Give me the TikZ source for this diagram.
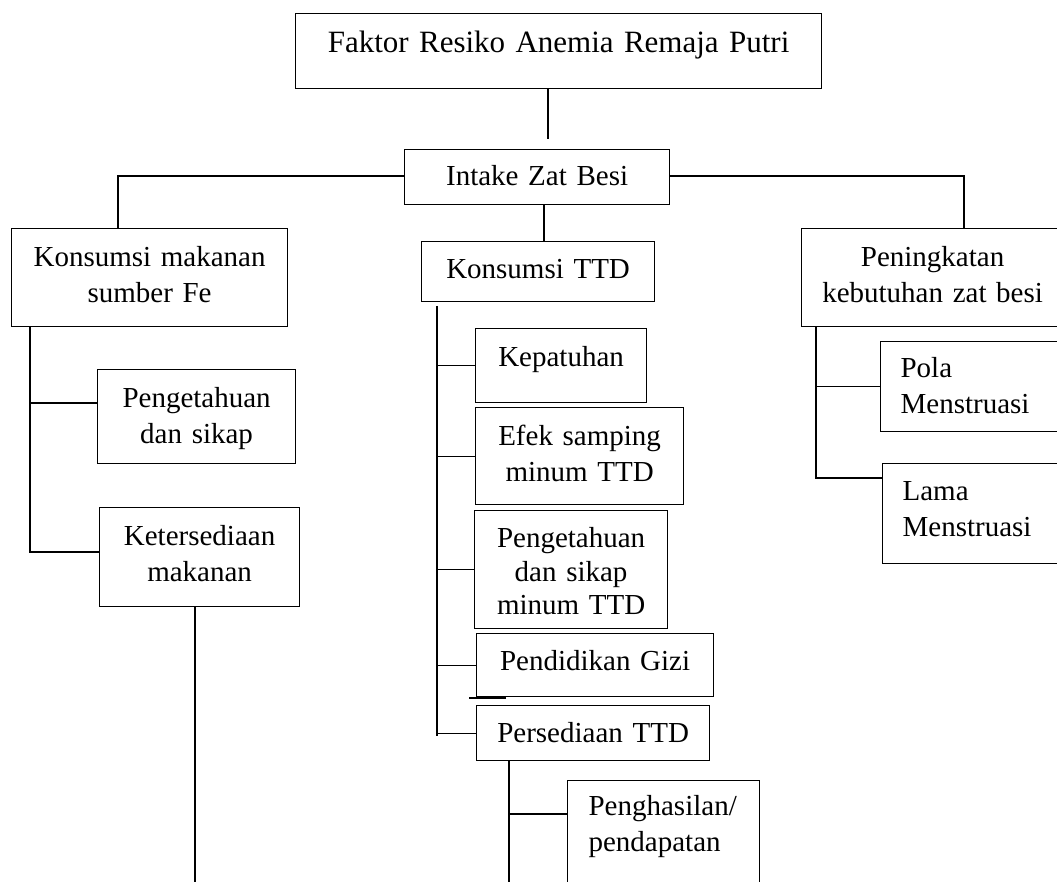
\documentclass[tikz,border=0pt]{standalone}
\usepackage{fontspec}
\setmainfont{Liberation Serif}
\tikzset{
  box/.style={draw, line width=1.2pt, inner ysep=0pt, inner xsep=0pt, anchor=north west,
    font=\fontsize{29}{36}\selectfont, align=center},
  lbox/.style={box, align=left},
  conn/.style={line width=1.2pt},
}
\begin{document}
\begin{tikzpicture}[x=1pt,y=-1pt]
\useasboundingbox (0,0) rectangle (1057,882);
\clip (0,0) rectangle (1057,882);

% boxes
\node[box, font=\fontsize{31}{37}\selectfont, text width=526pt, text height=39pt, text depth=36pt] (title) at (295,13) {Faktor Resiko Anemia Remaja Putri};
\node[box, text width=265pt, text height=36pt, text depth=19pt] (intake) at (404,149) {Intake Zat Besi};
\node[box, text width=276pt, text height=38pt, text depth=60pt] (konsMakan) at (11,228) {Konsumsi makanan\\sumber Fe};
\node[box, text width=233pt, text height=37pt, text depth=23pt] (konsTTD) at (421,241) {Konsumsi TTD};
\node[box, text width=262pt, text height=38pt, text depth=60pt] (peningkatan) at (801,228) {Peningkatan\\kebutuhan zat besi};
\node[box, text width=198pt, text height=38pt, text depth=56pt] (pengFe) at (97,369) {Pengetahuan\\dan sikap};
\node[box, text width=200pt, text height=38pt, text depth=61pt] (keters) at (99,507) {Ketersediaan\\makanan};
\node[box, text width=171pt, text height=38pt, text depth=36pt] (kepatuhan) at (475,328) {Kepatuhan};
\node[box, text width=208pt, text height=38pt, text depth=59pt] (efek) at (475,407) {Efek samping\\minum TTD};
\node[box, font=\fontsize{29}{33.5}\selectfont, text width=193pt, text height=37pt, text depth=81pt] (pengTTD) at (474,510) {Pengetahuan\\dan sikap\\minum TTD};
\node[box, text width=237pt, text height=37pt, text depth=26pt] (pendidikan) at (476,633) {Pendidikan Gizi};
\node[box, text width=233pt, text height=37pt, text depth=18pt] (persediaan) at (476,705) {Persediaan TTD};
\node[lbox, inner xsep=21pt, text width=150pt, text height=35pt, text depth=95pt] (penghasilan) at (567,780) {\mbox{Penghasilan/}\\\mbox{pendapatan}};
\node[lbox, inner xsep=20pt, text width=143pt, text height=36pt, text depth=54pt] (pola) at (880,341) {Pola\\Menstruasi};
\node[lbox, inner xsep=20pt, text width=141pt, text height=37pt, text depth=63pt] (lama) at (882,463) {Lama\\Menstruasi};

% connectors
\coordinate (t1) at (548,139);
\draw[conn] (title.south -| t1) -- (t1);
\coordinate (hl) at (118,176);
\coordinate (hr) at (964,176);
\draw[conn] (intake.west |- hl) -- (hl) -- (hl |- konsMakan.north);
\draw[conn] (intake.east |- hr) -- (hr) -- (hr |- peningkatan.north);
\coordinate (c1) at (544,204);
\draw[conn] (intake.south -| c1) -- (konsTTD.north -| c1);

\coordinate (lb1) at (30,403);
\coordinate (lb2) at (30,552);
\draw[conn] (konsMakan.south -| lb2) -- (lb2) -- (lb2 -| keters.west);
\draw[conn] (lb1) -- (lb1 -| pengFe.west);
\coordinate (kb) at (195,895);
\draw[conn] (keters.south -| kb) -- (kb);

\coordinate (tt) at (437,306);
\coordinate (tb) at (437,736);
\draw[conn] (tt) -- (tb);
\foreach \n in {kepatuhan,efek,pengTTD,pendidikan,persediaan}
  \draw[conn] (\n.west -| tt) -- (\n.west);
\coordinate (s1) at (469,698);
\coordinate (s2) at (506,698);
\draw[conn] (s1) -- (s2);

\coordinate (pv) at (509,895);
\coordinate (pb) at (509,814);
\draw[conn] (persediaan.south -| pv) -- (pv);
\draw[conn] (pb) -- (pb -| penghasilan.west);

\coordinate (rv) at (816,478);
\draw[conn] (peningkatan.south -| rv) -- (rv) -- (rv -| lama.west);
\draw[conn] (pola.west -| rv) -- (pola.west);
\end{tikzpicture}
\end{document}
